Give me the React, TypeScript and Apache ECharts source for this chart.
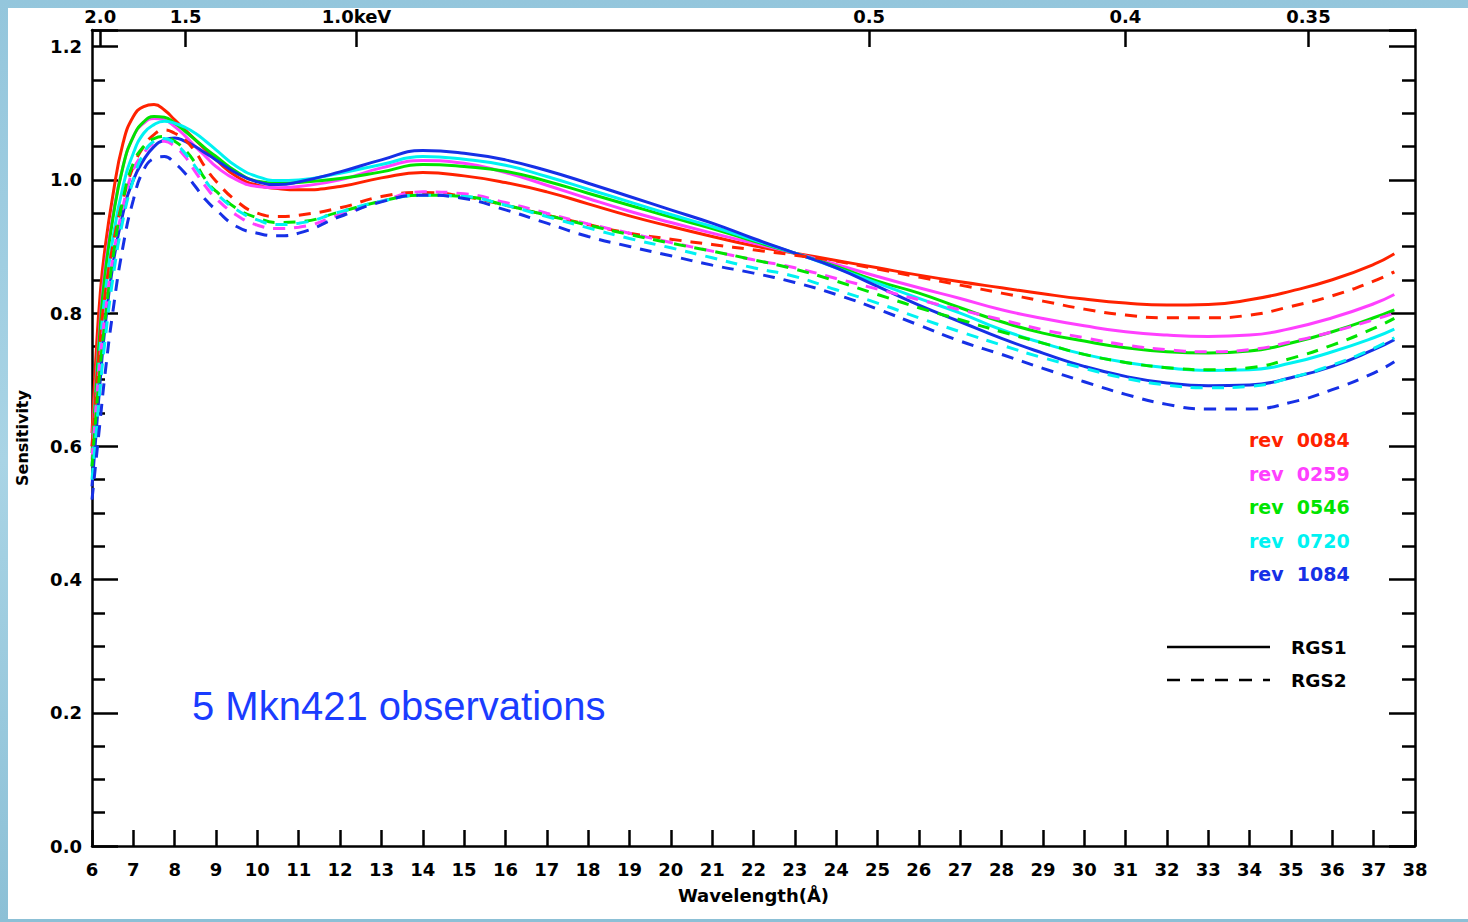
import React, { useEffect, useRef } from "react";
import * as echarts from "echarts";

const wavelengths = [6.0, 6.1, 6.2, 6.3, 6.5, 6.75, 7.0, 7.25, 7.5, 7.75, 8.0, 8.25, 8.5, 8.75, 9.0, 9.5, 10, 10.5, 11, 12, 13, 14, 15, 16, 17, 18, 19, 20, 21, 22, 23, 24, 25, 26, 27, 28, 29, 30, 31, 32, 33, 34, 35, 36, 37, 37.5];

const rgs1_0084 = [0.62, 0.74, 0.83, 0.89, 0.975, 1.055, 1.095, 1.11, 1.113, 1.105, 1.09, 1.075, 1.06, 1.045, 1.03, 1.005, 0.992, 0.987, 0.985, 0.99, 1.003, 1.011, 1.006, 0.996, 0.982, 0.964, 0.946, 0.93, 0.915, 0.901, 0.89, 0.879, 0.868, 0.857, 0.847, 0.838, 0.829, 0.821, 0.815, 0.812, 0.813, 0.82, 0.833, 0.85, 0.873, 0.889];
const rgs1_0259 = [0.6, 0.7, 0.79, 0.86, 0.945, 1.02, 1.065, 1.085, 1.092, 1.09, 1.08, 1.066, 1.05, 1.035, 1.02, 1.0, 0.99, 0.988, 0.99, 1.0, 1.018, 1.029, 1.025, 1.011, 0.992, 0.972, 0.953, 0.936, 0.92, 0.905, 0.89, 0.873, 0.855, 0.838, 0.822, 0.805, 0.792, 0.781, 0.772, 0.767, 0.765, 0.767, 0.777, 0.793, 0.814, 0.828];
const rgs1_0546 = [0.59, 0.69, 0.78, 0.85, 0.94, 1.02, 1.065, 1.087, 1.095, 1.094, 1.085, 1.073, 1.06, 1.047, 1.035, 1.012, 0.998, 0.995, 0.996, 1.002, 1.012, 1.023, 1.02, 1.013, 0.998, 0.98, 0.962, 0.944, 0.927, 0.908, 0.89, 0.87, 0.848, 0.83, 0.808, 0.787, 0.77, 0.758, 0.748, 0.742, 0.74, 0.743, 0.755, 0.772, 0.793, 0.805];
const rgs1_0720 = [0.57, 0.66, 0.75, 0.82, 0.91, 0.99, 1.04, 1.07, 1.083, 1.088, 1.085, 1.079, 1.07, 1.058, 1.045, 1.02, 1.005, 0.999, 1.0, 1.01, 1.023, 1.035, 1.031, 1.022, 1.005, 0.986, 0.967, 0.948, 0.93, 0.91, 0.89, 0.868, 0.845, 0.822, 0.8, 0.775, 0.755, 0.738, 0.726, 0.718, 0.714, 0.715, 0.725, 0.742, 0.763, 0.776];
const rgs1_1084 = [0.54, 0.62, 0.7, 0.77, 0.87, 0.95, 1.0, 1.03, 1.05, 1.06, 1.063, 1.058, 1.05, 1.04, 1.03, 1.01, 0.997, 0.993, 0.997, 1.012, 1.03, 1.044, 1.04, 1.03, 1.014, 0.995, 0.975, 0.955, 0.935, 0.912, 0.89, 0.868, 0.84, 0.812, 0.787, 0.762, 0.74, 0.72, 0.705, 0.695, 0.691, 0.692, 0.703, 0.72, 0.745, 0.76];

const rgs2_0084 = [0.6, 0.68, 0.76, 0.82, 0.9, 0.97, 1.02, 1.05, 1.068, 1.075, 1.07, 1.06, 1.042, 1.018, 0.998, 0.968, 0.95, 0.945, 0.947, 0.958, 0.975, 0.981, 0.975, 0.962, 0.947, 0.933, 0.92, 0.911, 0.903, 0.895, 0.887, 0.878, 0.866, 0.854, 0.842, 0.83, 0.818, 0.806, 0.797, 0.793, 0.793, 0.797, 0.81, 0.826, 0.848, 0.862];
const rgs2_0259 = [0.58, 0.66, 0.73, 0.79, 0.88, 0.96, 1.015, 1.04, 1.055, 1.058, 1.05, 1.035, 1.012, 0.99, 0.972, 0.947, 0.932, 0.927, 0.929, 0.948, 0.968, 0.982, 0.979, 0.966, 0.95, 0.934, 0.92, 0.906, 0.893, 0.88, 0.868, 0.852, 0.836, 0.82, 0.805, 0.79, 0.775, 0.763, 0.752, 0.745, 0.742, 0.745, 0.757, 0.772, 0.79, 0.8];
const rgs2_0546 = [0.57, 0.65, 0.72, 0.78, 0.88, 0.97, 1.025, 1.05, 1.062, 1.065, 1.058, 1.045, 1.025, 1.0, 0.983, 0.957, 0.943, 0.936, 0.937, 0.952, 0.968, 0.977, 0.975, 0.962, 0.947, 0.932, 0.918, 0.905, 0.893, 0.88, 0.866, 0.848, 0.828, 0.808, 0.79, 0.772, 0.755, 0.738, 0.726, 0.718, 0.715, 0.718, 0.732, 0.752, 0.777, 0.792];
const rgs2_0720 = [0.55, 0.62, 0.69, 0.75, 0.85, 0.94, 1.0, 1.04, 1.058, 1.062, 1.055, 1.04, 1.02, 0.998, 0.98, 0.955, 0.94, 0.933, 0.935, 0.952, 0.968, 0.977, 0.975, 0.962, 0.945, 0.928, 0.912, 0.898, 0.883, 0.868, 0.855, 0.835, 0.815, 0.793, 0.772, 0.752, 0.733, 0.717, 0.702, 0.692, 0.688, 0.69, 0.703, 0.722, 0.747, 0.763];
const rgs2_1084 = [0.52, 0.58, 0.64, 0.7, 0.8, 0.9, 0.97, 1.015, 1.032, 1.035, 1.025, 1.01, 0.99, 0.97, 0.955, 0.93, 0.92, 0.916, 0.92, 0.945, 0.967, 0.977, 0.972, 0.955, 0.935, 0.915, 0.9, 0.886, 0.872, 0.86, 0.846, 0.828, 0.806, 0.782, 0.758, 0.738, 0.717, 0.697, 0.678, 0.663, 0.656, 0.656, 0.666, 0.685, 0.71, 0.727];

const revLabels = ["rev  0084", "rev  0259", "rev  0546", "rev  0720", "rev  1084"];
const revColors = ["#ff2200", "#ff40ff", "#00e400", "#00f2f2", "#1630e6"];
const rgs1Values = [rgs1_0084, rgs1_0259, rgs1_0546, rgs1_0720, rgs1_1084];
const rgs2Values = [rgs2_0084, rgs2_0259, rgs2_0546, rgs2_0720, rgs2_1084];

const topEnergies = [2.0, 1.5, 1.0, 0.5, 0.4, 0.35];
const topLabels = ["2.0", "1.5", "1.0keV", "0.5", "0.4", "0.35"];
const HC = 12.398;

const FONT = "DejaVu Sans";

export default function App() {
  const ref = useRef<HTMLDivElement>(null);
  useEffect(() => {
    if (!ref.current) return;
    const chart = echarts.init(ref.current, null, { renderer: "svg" });
    const topValues = topEnergies.map((e) => HC / e);
    const pairs = (vals: number[]) => wavelengths.map((w, i) => [w, vals[i]]);
    const series: any[] = [];
    rgs1Values.forEach((vals, i) => {
      series.push({
        type: "line", name: "RGS1 " + revLabels[i], data: pairs(vals), xAxisIndex: 0, yAxisIndex: 0,
        showSymbol: false, smooth: 0.5,
        lineStyle: { color: revColors[i], width: 3, type: "solid" },
      });
    });
    rgs2Values.forEach((vals, i) => {
      series.push({
        type: "line", name: "RGS2 " + revLabels[i], data: pairs(vals), xAxisIndex: 0, yAxisIndex: 0,
        showSymbol: false, smooth: 0.5,
        lineStyle: { color: revColors[i], width: 3, type: [12, 9] },
      });
    });
    const axisText = { color: "#000", fontFamily: FONT, fontWeight: "bold", fontSize: 18 };
    const graphics: any[] = [
      {
        type: "text", x: 184, y: 706,
        style: { text: "5 Mkn421 observations", fill: "#1a3cff", font: "40px 'Liberation Sans', Arial, sans-serif", textVerticalAlign: "middle" },
      },
    ];
    revLabels.forEach((lab, i) => {
      graphics.push({
        type: "text", x: 1241, y: 440 + i * 33.5,
        style: { text: lab, fill: revColors[i], font: `bold 19px '${FONT}'`, textVerticalAlign: "middle", textAlign: "left" },
      });
    });
    graphics.push(
      { type: "line", shape: { x1: 1159, y1: 647, x2: 1262, y2: 647 }, style: { stroke: "#000", lineWidth: 2.5 } },
      { type: "line", shape: { x1: 1159, y1: 680, x2: 1262, y2: 680 }, style: { stroke: "#000", lineWidth: 2.5, lineDash: [13, 11] } },
      { type: "text", x: 1283, y: 647, style: { text: "RGS1", fill: "#000", font: `bold 18.5px '${FONT}'`, textVerticalAlign: "middle" } },
      { type: "text", x: 1283, y: 680, style: { text: "RGS2", fill: "#000", font: `bold 18.5px '${FONT}'`, textVerticalAlign: "middle" } }
    );
    chart.setOption({
      animation: false,
      grid: { left: 84, right: 53, top: 30, bottom: 73, containLabel: false, outerBoundsMode: "none" },
      xAxis: [
        {
          type: "value", position: "bottom", min: 6, max: 38, interval: 1,
          name: "Wavelength(Å)", nameLocation: "middle", nameGap: 40,
          nameTextStyle: { ...axisText, fontSize: 18 },
          axisLine: { onZero: false, lineStyle: { color: "#000", width: 2.5 } },
          axisTick: { inside: true, length: 16, lineStyle: { color: "#000", width: 2.5 } },
          axisLabel: { ...axisText, margin: 14 },
          splitLine: { show: false },
        },
        {
          type: "value", position: "top", min: 6, max: 38,
          axisLine: { onZero: false, lineStyle: { color: "#000", width: 2.5 } },
          axisTick: { inside: true, length: 17, customValues: topValues, lineStyle: { color: "#000", width: 2.5 } },
          axisLabel: {
            ...axisText, margin: 5, customValues: topValues,
            formatter: (v: number) => {
              const idx = topValues.findIndex((t) => Math.abs(t - v) < 1e-6);
              return idx >= 0 ? topLabels[idx] : "";
            },
          },
          splitLine: { show: false },
        },
      ],
      yAxis: [
        {
          type: "value", position: "left", min: 0, max: 1.225, interval: 0.2,
          name: "Sensitivity", nameLocation: "middle", nameGap: 62, nameRotate: 90,
          nameTextStyle: { ...axisText, fontSize: 16 },
          axisLine: { show: true, onZero: false, lineStyle: { color: "#000", width: 2.5 } },
          axisTick: { show: true, inside: true, length: 26, lineStyle: { color: "#000", width: 2.5 } },
          minorTick: { show: true, splitNumber: 4, length: 13, lineStyle: { color: "#000", width: 2.5 } },
          axisLabel: { ...axisText, margin: 10, showMaxLabel: false, formatter: (v: number) => v.toFixed(1) },
          splitLine: { show: false },
          minorSplitLine: { show: false },
        },
        {
          type: "value", position: "right", min: 0, max: 1.225, interval: 0.2,
          axisLine: { show: true, onZero: false, lineStyle: { color: "#000", width: 2.5 } },
          axisTick: { show: true, inside: true, length: 26, lineStyle: { color: "#000", width: 2.5 } },
          minorTick: { show: true, splitNumber: 4, length: 13, lineStyle: { color: "#000", width: 2.5 } },
          axisLabel: { show: false },
          splitLine: { show: false },
          minorSplitLine: { show: false },
        },
      ],
      graphic: graphics,
      series,
    });
    return () => chart.dispose();
  }, []);
  return (
    <div style={{ position: "fixed", left: 0, top: 0, width: 1468, height: 922, background: "linear-gradient(180deg, #94c6dc 0%, #a9d4e5 50%, #8cc0d6 100%)" }}>
      <div style={{ position: "absolute", left: 8, top: 8, width: 1460, height: 911, background: "#ffffff" }} />
      <div ref={ref} style={{ position: "absolute", left: 8, top: 0, width: 1460, height: 919 }} />
    </div>
  );
}
